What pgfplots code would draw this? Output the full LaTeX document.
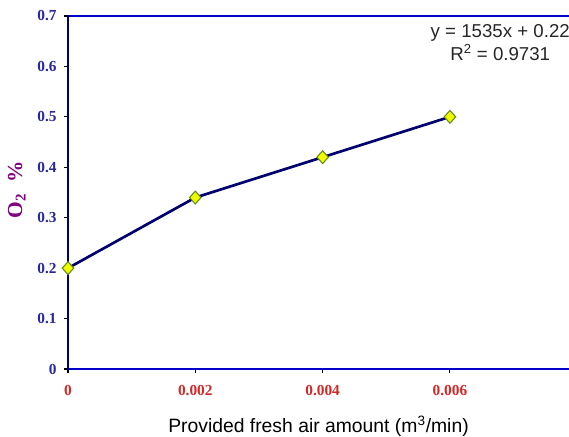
\documentclass[border=0pt]{standalone}
\usepackage{pgfplots}
\pgfplotsset{compat=1.18}
\usepackage{fontspec}
\setmainfont{Liberation Serif}
\newfontfamily\arial{Liberation Sans}
\definecolor{axblue}{RGB}{0,0,200}
\definecolor{navyline}{RGB}{0,0,110}
\definecolor{ytick}{RGB}{40,40,160}
\definecolor{xtick}{RGB}{210,40,40}
\definecolor{lblpurple}{RGB}{128,0,128}
\definecolor{mkfill}{RGB}{240,250,0}
\definecolor{mkdraw}{RGB}{100,140,20}
\begin{document}
\begin{tikzpicture}
\begin{axis}[
  scale only axis,
  width=375.75pt, height=264.75pt,
  xmin=0, xmax=0.00787, ymin=0, ymax=0.7,
  axis x line=box, axis y line=left,
  x axis line style={axblue, line width=2pt, -},
  y axis line style={navyline, line width=1.8pt, -},
  xtick={0,0.002,0.004,0.006},
  ytick={0,0.1,0.2,0.3,0.4,0.5,0.6,0.7},
  scaled x ticks=false,
  tick pos=left, tick align=outside,
  major tick length=3pt,
  every tick/.style={black, line width=0.8pt},
  /pgf/number format/assume math mode=true,
  xticklabel style={font=\fontsize{11.5}{12}\selectfont\bfseries, text=xtick, /pgf/number format/fixed, /pgf/number format/precision=3, yshift=-6pt},
  yticklabel style={font=\fontsize{11.5}{12}\selectfont\bfseries, text=ytick, /pgf/number format/fixed, /pgf/number format/precision=1, xshift=-2pt},
  xlabel={\arial Provided fresh air amount (m\textsuperscript{3}/min)},
  xlabel style={font=\fontsize{14.5}{16}\selectfont, yshift=-8pt},
  ylabel={O\textsubscript{2}\ \ \%},
  ylabel style={font=\fontsize{16}{18}\selectfont\bfseries, text=lblpurple, yshift=2pt, xshift=2pt},
  clip=false,
]
\addplot[color=navyline, line width=2pt, mark=diamond*, mark size=4.8pt,
  mark options={fill=mkfill, draw=mkdraw, line width=0.8pt, xscale=1.2}]
  coordinates {(0,0.2) (0.002,0.34) (0.004,0.42) (0.006,0.5)};
\node[align=center, font=\arial\fontsize{14}{17}\selectfont, text=black!85, anchor=north, inner sep=0pt]
  at (axis cs:0.00679,0.683) {y = 1535x + 0.22\\R\textsuperscript{2} = 0.9731};
\end{axis}
\pgfresetboundingbox
\path[use as bounding box] ([xshift=-51pt,yshift=-51pt]current axis.south west) rectangle ([yshift=12pt]current axis.north east);
\end{tikzpicture}
\end{document}
